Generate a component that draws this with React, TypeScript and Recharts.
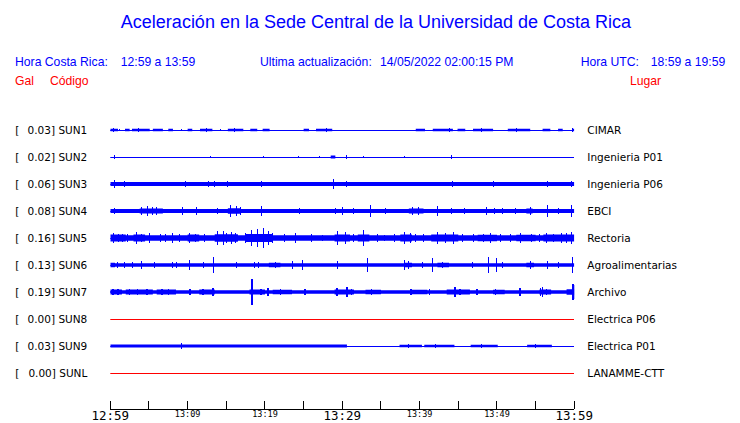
import React from 'react';
import { ComposedChart, Line, Area, XAxis, YAxis } from 'recharts';

// estaciones, de arriba hacia abajo
const stations = ['SUN1', 'SUN2', 'SUN3', 'SUN4', 'SUN5', 'SUN6', 'SUN7', 'SUN8', 'SUN9', 'SUNL'];
const peakGal = [0.03, 0.02, 0.06, 0.08, 0.16, 0.13, 0.19, 0.0, 0.03, 0.0];
const places = [
  'CIMAR', 'Ingenieria P01', 'Ingenieria P06', 'EBCI', 'Rectoria',
  'Agroalimentarias', 'Archivo', 'Electrica P06', 'Electrica P01', 'LANAMME-CTT',
];

// minutos desde 12:59
const timeTicks = [0, 5, 10, 15, 20, 25, 30, 35, 40, 45, 50, 55, 60];
const timeLabels = ['12:59', '', '13:09', '', '13:19', '', '13:29', '', '13:39', '', '13:49', '', '13:59'];

// bandas de ruido: [inicio, fin, semi-amplitud] (amplitud en filas)
const sun1Bands = [
  [0, 1.0, 0.05], [1.9, 2.5, 0.05], [2.8, 5.1, 0.05], [5.5, 6.8, 0.05], [7.5, 8.1, 0.05],
  [10.0, 10.6, 0.05], [11.6, 13.2, 0.05], [15.2, 17.2, 0.05], [18.1, 19.0, 0.05], [19.7, 20.6, 0.05],
  [25.0, 25.7, 0.05], [26.6, 28.7, 0.05], [39.5, 40.7, 0.05], [41.7, 44.3, 0.05], [44.9, 45.9, 0.05],
  [46.9, 49.5, 0.05], [51.4, 54.3, 0.05], [55.9, 56.9, 0.05], [57.9, 58.5, 0.05], [59.7, 60, 0.05],
];
const sun2Bands = [[28.5, 29.1, 0.06]];
const sun3Bands = [[0, 60, 0.07]];
const sun4Bands = [[0, 60, 0.07], [3.8, 6.8, 0.09], [15.2, 16.8, 0.1], [38.6, 40.5, 0.09], [53.8, 54.6, 0.09]];
const sun5Bands = [
  [0, 60, 0.1], [0, 2.0, 0.13], [3.0, 4.5, 0.13], [10.0, 11.5, 0.13], [13.5, 16.5, 0.14],
  [17.5, 21.0, 0.15], [29.0, 31.0, 0.13], [32.0, 33.5, 0.13], [37.5, 39.0, 0.13], [41.5, 45.0, 0.13],
  [47.5, 50.0, 0.12], [52.5, 55.0, 0.12], [56.0, 60, 0.13],
];
const sun6Bands = [[0, 60, 0.065], [0, 0.6, 0.085], [20.5, 22.0, 0.085], [38.0, 39.0, 0.085], [42.3, 43.8, 0.085], [53.8, 54.8, 0.085]];
const sun7Bands = [
  [0, 60, 0.065], [0, 1.5, 0.09], [2.0, 5.5, 0.09], [6.0, 8.5, 0.09], [11.5, 13.5, 0.09], [18.0, 20.0, 0.09],
  [21.0, 23.5, 0.085], [29.0, 31.5, 0.09], [33.0, 35.0, 0.085], [39.0, 41.0, 0.085], [43.5, 46.5, 0.09],
  [49.5, 51.0, 0.085], [55.5, 57.0, 0.09], [59.0, 60, 0.1],
];
const sun8Bands: number[][] = [];
const sun9Bands = [[0, 30.6, 0.056], [37.4, 40.3, 0.045], [40.6, 44.5, 0.045], [46.6, 50.1, 0.045], [53.9, 57.1, 0.045]];
const sunlBands: number[][] = [];

// picos: [minuto, semi-amplitud]
const sun1Spikes = [
  [0.35, 0.09], [1.2, 0.05], [3.6, 0.06], [6.2, 0.05], [9.2, 0.05], [12.4, 0.06], [14.2, 0.05], [16.0, 0.06],
  [26.9, 0.05], [27.9, 0.06], [40.1, 0.05], [43.9, 0.08], [48.0, 0.06], [52.5, 0.06], [59.8, 0.08],
];
const sun2Spikes = [[0.6, 0.07], [12.9, 0.05], [19.75, 0.04], [24.4, 0.04], [27.0, 0.03], [30.5, 0.06], [32.7, 0.04], [38.1, 0.03], [44.1, 0.06]];
const sun3Spikes = [
  [0.6, 0.15], [1.8, 0.11], [9.66, 0.11], [12.76, 0.1], [13.5, 0.1], [13.9, 0.09], [15.1, 0.1], [16.9, 0.09],
  [19.6, 0.1], [24.5, 0.09], [28.8, 0.17], [30.5, 0.12], [36.0, 0.09], [44.2, 0.1], [46.3, 0.09], [49.5, 0.1],
  [50.9, 0.09], [54.1, 0.09], [56.5, 0.12], [59.7, 0.11],
];
const sun4Spikes = [
  [0.6, 0.11], [4.0, 0.13], [4.75, 0.17], [5.4, 0.15], [6.0, 0.15], [9.4, 0.15], [11.2, 0.15], [13.8, 0.1],
  [15.5, 0.22], [16.3, 0.19], [16.8, 0.15], [19.6, 0.19], [24.5, 0.12], [29.1, 0.12], [30.0, 0.15], [31.4, 0.1],
  [33.7, 0.22], [35.6, 0.1], [39.1, 0.15], [39.9, 0.15], [42.25, 0.19], [44.1, 0.1], [45.85, 0.1], [48.6, 0.15],
  [49.7, 0.1], [50.7, 0.1], [52.4, 0.1], [54.3, 0.15], [56.5, 0.22], [57.9, 0.12], [59.7, 0.22],
];
const sun5Spikes = [
  [0.35, 0.2], [1.0, 0.15], [1.6, 0.14], [2.2, 0.13], [3.45, 0.22], [4.0, 0.15], [5.1, 0.17], [6.5, 0.13],
  [7.2, 0.14], [8.0, 0.17], [9.0, 0.13], [10.3, 0.19], [11.0, 0.15], [12.2, 0.14], [13.8, 0.26], [14.7, 0.26],
  [15.0, 0.18], [15.7, 0.22], [16.2, 0.17], [17.5, 0.17], [18.3, 0.3], [19.0, 0.33], [19.75, 0.37], [20.4, 0.26],
  [21.0, 0.18], [22.5, 0.13], [24.0, 0.19], [26.0, 0.13], [27.5, 0.12], [29.4, 0.26], [30.35, 0.22], [31.5, 0.15],
  [32.8, 0.3], [34.5, 0.13], [35.5, 0.12], [36.8, 0.14], [38.0, 0.22], [38.8, 0.2], [39.5, 0.15], [40.5, 0.13],
  [42.25, 0.22], [43.3, 0.19], [44.4, 0.22], [45.5, 0.15], [47.0, 0.14], [48.2, 0.15], [49.1, 0.17], [50.5, 0.13],
  [51.8, 0.14], [53.0, 0.17], [54.5, 0.15], [55.5, 0.14], [56.4, 0.2], [57.3, 0.16], [58.3, 0.2], [59.0, 0.17],
  [59.7, 0.22],
];
const sun6Spikes = [
  [0.87, 0.1], [1.9, 0.1], [2.9, 0.1], [3.97, 0.15], [5.78, 0.1], [8.0, 0.1], [8.5, 0.1], [10.2, 0.19],
  [12.0, 0.1], [13.3, 0.3], [16.3, 0.1], [18.6, 0.1], [19.1, 0.12], [21.4, 0.1], [23.6, 0.15], [24.8, 0.19],
  [29.4, 0.15], [33.2, 0.26], [38.0, 0.19], [38.5, 0.15], [40.4, 0.12], [41.6, 0.26], [43.0, 0.12], [46.8, 0.12],
  [48.96, 0.3], [50.0, 0.26], [50.7, 0.12], [54.3, 0.15], [56.5, 0.15], [57.9, 0.12], [59.8, 0.3],
];
const sun7Spikes = [
  [0.35, 0.1], [1.0, 0.11], [2.5, 0.1], [3.5, 0.11], [4.75, 0.1], [6.7, 0.1], [7.5, 0.1], [10.3, 0.1],
  [12.0, 0.1], [13.3, 0.13], [18.35, 0.48], [19.5, 0.1], [20.4, 0.13], [22.0, 0.1], [25.2, 0.12],
  [29.3, 0.15], [30.6, 0.19], [31.2, 0.12], [33.8, 0.1], [38.9, 0.1], [40.0, 0.09], [41.3, 0.12], [44.6, 0.17],
  [45.2, 0.12], [47.4, 0.1], [49.8, 0.1], [53.0, 0.15], [55.6, 0.15], [55.9, 0.19], [56.4, 0.11], [59.8, 0.3],
  [60, 0.26],
];
const sun8Spikes: number[][] = [];
const sun9Spikes = [[9.27, 0.11], [38.5, 0.06], [42.0, 0.06], [48.0, 0.06], [55.0, 0.06]];
const sunlSpikes: number[][] = [];

const allBands = [sun1Bands, sun2Bands, sun3Bands, sun4Bands, sun5Bands, sun6Bands, sun7Bands, sun8Bands, sun9Bands, sunlBands];
const allSpikes = [sun1Spikes, sun2Spikes, sun3Spikes, sun4Spikes, sun5Spikes, sun6Spikes, sun7Spikes, sun8Spikes, sun9Spikes, sunlSpikes];

const BLUE = '#0000ff';
const RED = '#ff0000';
const traceColor = (i: number) => (i === 7 || i === 9 ? RED : BLUE);

const rowIdx = stations.map((_, i) => i);

const spikeData = (row: number, spikes: number[][]) => {
  const pts = [{ t: 0, v: row }];
  [...spikes].sort((a, b) => a[0] - b[0]).forEach(([t, a]) => {
    pts.push({ t, v: row }, { t, v: row - a }, { t, v: row + a }, { t, v: row });
  });
  pts.push({ t: 60, v: row });
  return pts;
};

const bandData = (row: number, bands: number[][]) => {
  const pts: { t: number; r: number[] | null }[] = [];
  bands.forEach(([t0, t1, a]) => {
    pts.push({ t: t0, r: [row - a, row + a] }, { t: t1, r: [row - a, row + a] }, { t: t1, r: null });
  });
  return pts;
};

const TimeTick = (props: any) => {
  const { x, y, payload } = props;
  const label = timeLabels[timeTicks.indexOf(payload.value)];
  const big = payload.value % 30 === 0;
  return (
    <g>
      <line x1={x} x2={x} y1={y - 8} y2={y} stroke="#000" strokeWidth={1} shapeRendering="crispEdges" />
      {label ? (
        <text
          x={x}
          y={big ? y + 10.5 : y + 7.5}
          textAnchor="middle"
          fontFamily="DejaVu Sans Mono"
          fontSize={big ? 12.5 : 8.5}
          fill="#000"
        >
          {label}
        </text>
      ) : null}
    </g>
  );
};

const StationTick = (props: any) => {
  const { x, y, payload } = props;
  const i = payload.value;
  return (
    <g fontFamily="DejaVu Sans" fontSize={10.5} fill="#000">
      <text x={x - 95} y={y} dy="0.36em">[</text>
      <text x={x - 23} y={y} dy="0.36em" textAnchor="end">
        {peakGal[i].toFixed(2)}] {stations[i]}
      </text>
    </g>
  );
};

const PlaceTick = (props: any) => {
  const { x, y, payload } = props;
  return (
    <text x={x + 13} y={y} dy="0.36em" fontFamily="DejaVu Sans" fontSize={10.5} fill="#000">
      {places[payload.value]}
    </text>
  );
};

export default function App() {
  return (
    <div style={{ position: 'absolute', left: 0, top: 0, width: 740, height: 423, background: '#fff' }}>
      <ComposedChart width={740} height={423} margin={{ top: 116.5, right: 0, bottom: 0, left: 0 }}>
        <XAxis
          type="number"
          dataKey="t"
          domain={[0, 60]}
          ticks={timeTicks}
          interval={0}
          height={14}
          tickSize={0}
          tickMargin={0}
          tickLine={false}
          axisLine={{ stroke: '#000', shapeRendering: 'crispEdges' }}
          tick={<TimeTick />}
          allowDataOverflow
        />
        <YAxis
          yAxisId="left"
          type="number"
          domain={[-0.5, 10.333]}
          reversed
          ticks={rowIdx}
          interval={0}
          width={110.3}
          tickSize={0}
          tickMargin={0}
          axisLine={false}
          tickLine={false}
          tick={<StationTick />}
          allowDataOverflow
        />
        <YAxis
          yAxisId="right"
          orientation="right"
          type="number"
          domain={[-0.5, 10.333]}
          reversed
          ticks={rowIdx}
          interval={0}
          width={165.7}
          tickSize={0}
          tickMargin={0}
          axisLine={false}
          tickLine={false}
          tick={<PlaceTick />}
          allowDataOverflow
        />
        {rowIdx.map((i) =>
          allBands[i].length ? (
            <Area
              key={`band-${i}`}
              yAxisId="left"
              data={bandData(i, allBands[i])}
              dataKey="r"
              type="linear"
              stroke="none"
              fill={traceColor(i)}
              fillOpacity={1}
              connectNulls={false}
              dot={false}
              activeDot={false}
              isAnimationActive={false}
            />
          ) : null
        )}
        {rowIdx.map((i) => (
          <Line
            key={`trace-${i}`}
            yAxisId="left"
            data={spikeData(i, allSpikes[i])}
            dataKey="v"
            type="linear"
            stroke={traceColor(i)}
            strokeWidth={i === 6 ? 1.5 : 1}
            shapeRendering="crispEdges"
            dot={false}
            activeDot={false}
            isAnimationActive={false}
          />
        ))}
      </ComposedChart>
      <svg
        width={740}
        height={100}
        style={{ position: 'absolute', left: 0, top: 0, pointerEvents: 'none' }}
        fontFamily="Liberation Sans"
      >
        <text x={376} y={28} textAnchor="middle" fontSize={18} fill={BLUE}>
          Aceleración en la Sede Central de la Universidad de Costa Rica
        </text>
        <g fontSize={12.2} fill={BLUE}>
          <text x={15} y={66}>Hora Costa Rica:</text>
          <text x={120.7} y={66}>12:59 a 13:59</text>
          <text x={260} y={66}>Ultima actualización:</text>
          <text x={380} y={66}>14/05/2022 02:00:15 PM</text>
          <text x={580.7} y={66}>Hora UTC:</text>
          <text x={650.7} y={66}>18:59 a 19:59</text>
        </g>
        <g fontSize={12.2} fill={RED}>
          <text x={15} y={84.5}>Gal</text>
          <text x={50} y={84.5}>Código</text>
          <text x={630} y={84.5}>Lugar</text>
        </g>
      </svg>
    </div>
  );
}
